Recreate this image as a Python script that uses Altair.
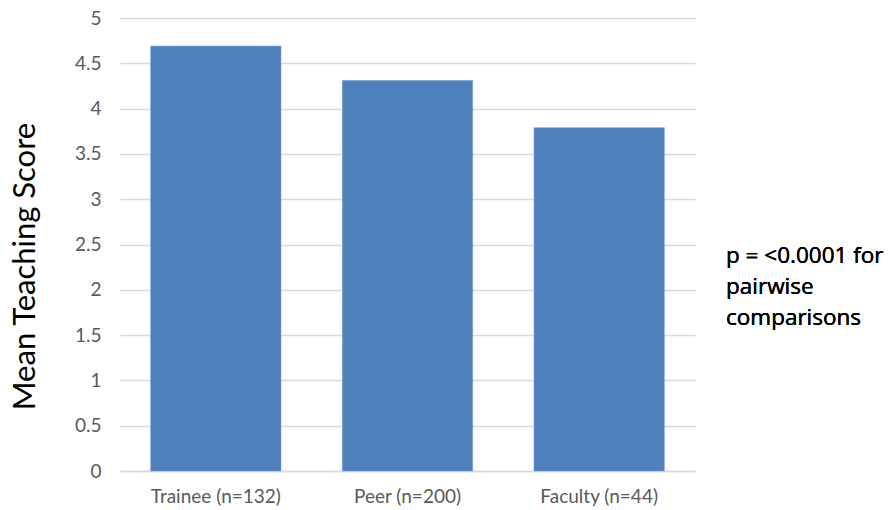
import altair as alt
import pandas as pd

categories = ["Trainee (n=132)", "Peer (n=200)", "Faculty (n=44)"]
scores = [4.69, 4.31, 3.79]
y_ticks = [0, 0.5, 1, 1.5, 2, 2.5, 3, 3.5, 4, 4.5, 5]
note_lines = ["p = <0.0001 for", "pairwise", "comparisons"]

df = pd.DataFrame({"group": categories, "score": scores})

FONT = "Lato"

bars = alt.Chart(df).mark_bar(color="#4F81BD", stroke="#6f9bd1", strokeWidth=0.5).encode(
    x=alt.X("group:N", sort=categories,
            scale=alt.Scale(paddingInner=0.32, paddingOuter=0.16),
            axis=alt.Axis(title=None, labelAngle=0, labelFontSize=19, labelColor="#595959",
                          labelFont=FONT, labelPadding=16, ticks=False,
                          domainColor="#d9d9d9", domainWidth=1.5, grid=False)),
    y=alt.Y("score:Q", scale=alt.Scale(domain=[0, 5], nice=False),
            axis=alt.Axis(title="Mean Teaching Score", values=y_ticks, format="~g",
                          labelFontSize=19, labelColor="#595959", labelFont=FONT,
                          labelPadding=19, ticks=False, domain=False,
                          gridColor="#d9d9d9", gridWidth=1.5,
                          titleFont=FONT, titleFontSize=31, titleFontWeight="normal",
                          titleColor="#000000", titleAngle=-90, titleX=-86, titleY=248,
                          titleAlign="center", titleBaseline="alphabetic")),
)

note = alt.Chart(df).mark_text(
    text=note_lines, align="left", baseline="middle", fontSize=22.5, font="Open Sans",
    fontWeight=400, color="#000000", lineHeight=31,
).encode(x=alt.value(606), y=alt.value(238))

chart = alt.layer(bars, note).properties(
    width=575, height=453,
    autosize=alt.AutoSizeParams(type="none"),
    padding={"left": 120, "top": 18, "right": 193, "bottom": 39},
    background="white",
).configure_view(stroke=None)

chart.save("out.html", embed_options={"renderer": "svg", "actions": False})
